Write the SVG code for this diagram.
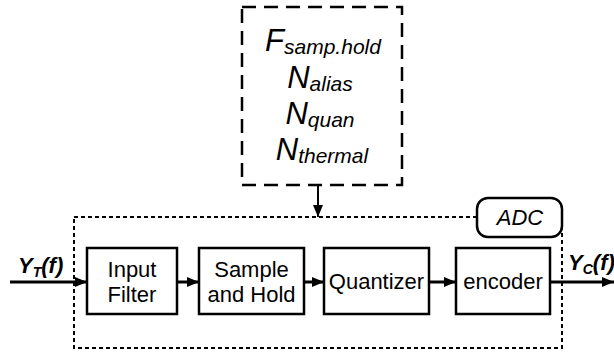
<svg xmlns="http://www.w3.org/2000/svg" width="614" height="354" viewBox="0 0 614 354">
  <defs>
    <marker id="head" viewBox="0 0 12 10" refX="12" refY="5" markerWidth="12" markerHeight="10" markerUnits="userSpaceOnUse" orient="auto">
      <path d="M0,0 L12,5 L0,10 Z" fill="#000"/>
    </marker>
    <style>
      .blk { fill: #fff; stroke: #000; stroke-width: 2.5; }
      .lbl { font-family: "Liberation Sans", Arial, sans-serif; font-size: 22px; fill: #000; text-anchor: middle; }
      .it { font-style: italic; }
      .sig { font-family: "Liberation Sans", Arial, sans-serif; font-weight: bold; font-style: italic; font-size: 22px; fill: #000; }
      .par { font-family: "Liberation Sans", Arial, sans-serif; font-style: italic; font-size: 31px; fill: #000; text-anchor: middle; }
      .sub { font-size: 21px; }
      .wire { stroke: #000; stroke-width: 3; fill: none; }
      .thin { stroke: #000; stroke-width: 2; fill: none; }
    </style>
  </defs>

  <!-- ADC boundary (dotted) -->
  <g id="adc-boundary">
    <rect x="74" y="217" width="488" height="131" fill="none" stroke="#000" stroke-width="2" stroke-dasharray="4 3"/>
  </g>

  <!-- ADC tag -->
  <g id="adc-tag">
    <rect x="477" y="198" width="85" height="39" rx="11" ry="11" class="blk" stroke-width="2"/>
    <text x="520" y="225" class="lbl it">ADC</text>
  </g>

  <!-- Noise / parameter box (dashed) -->
  <g id="params">
    <rect x="242" y="7" width="160" height="178" fill="none" stroke="#000" stroke-width="2.5" stroke-dasharray="14 8"/>
    <text x="323" y="51" class="par">F<tspan class="sub" dy="3">samp.hold</tspan></text>
    <text x="320" y="88" class="par">N<tspan class="sub" dy="3">alias</tspan></text>
    <text x="320" y="124" class="par">N<tspan class="sub" dy="3">quan</tspan></text>
    <text x="322" y="160" class="par">N<tspan class="sub" dy="3">thermal</tspan></text>
  </g>

  <!-- Processing blocks -->
  <g id="input-filter">
    <rect x="87" y="248" width="90" height="66" class="blk"/>
    <text x="132" y="277" class="lbl">Input</text>
    <text x="132" y="302" class="lbl">Filter</text>
  </g>
  <g id="sample-hold">
    <rect x="199" y="248" width="105" height="66" class="blk"/>
    <text x="251.5" y="277" class="lbl">Sample</text>
    <text x="251.5" y="302" class="lbl">and Hold</text>
  </g>
  <g id="quantizer">
    <rect x="324" y="248" width="105" height="66" class="blk"/>
    <text x="376.5" y="289" class="lbl">Quantizer</text>
  </g>
  <g id="encoder">
    <rect x="456" y="248" width="94" height="66" class="blk"/>
    <text x="503" y="289" class="lbl">encoder</text>
  </g>

  <!-- Signal labels -->
  <g id="signal-labels">
    <text x="18" y="273" class="sig">Y<tspan font-size="14" dy="4">T</tspan><tspan dy="-4">(f)</tspan></text>
    <text x="568" y="270" class="sig">Y<tspan font-size="14" dy="4">C</tspan><tspan dy="-4">(f)</tspan></text>
  </g>

  <!-- Connectors -->
  <g id="connectors">
    <line x1="10" y1="282" x2="87" y2="282" class="wire" marker-end="url(#head)"/>
    <line x1="177" y1="282" x2="199" y2="282" class="wire" marker-end="url(#head)"/>
    <line x1="304" y1="282" x2="324" y2="282" class="wire" marker-end="url(#head)"/>
    <line x1="429" y1="282" x2="456" y2="282" class="wire" marker-end="url(#head)"/>
    <line x1="550" y1="282" x2="614" y2="282" class="wire" marker-end="url(#head)"/>
    <line x1="318" y1="185" x2="318" y2="217" class="thin" marker-end="url(#head)"/>
  </g>
</svg>
